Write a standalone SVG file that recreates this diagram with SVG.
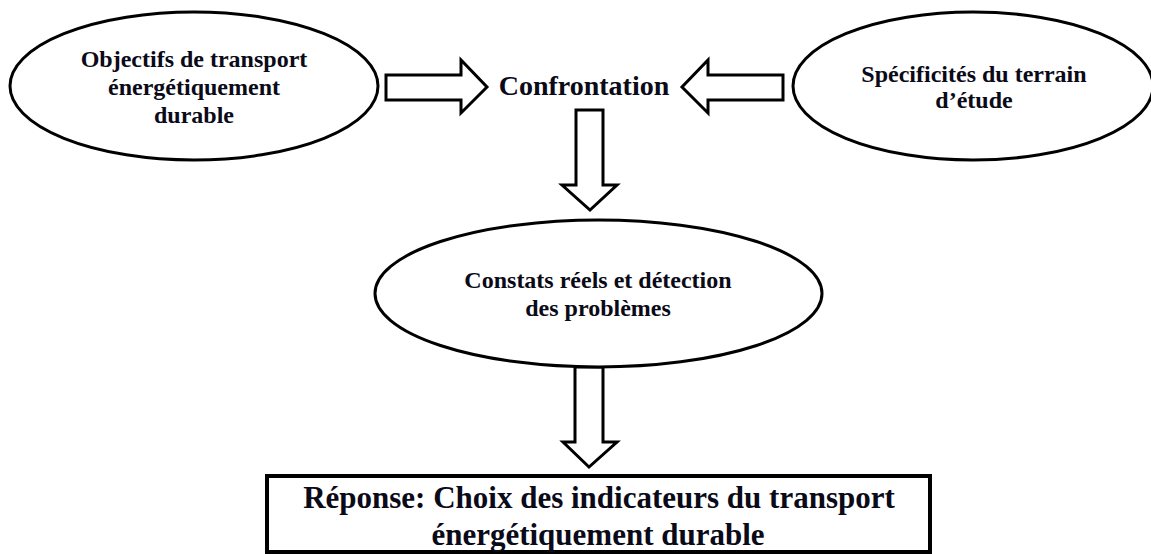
<svg xmlns="http://www.w3.org/2000/svg" width="1151" height="554" viewBox="0 0 1151 554">
  <style>
    .shape { fill: #ffffff; stroke: #000000; stroke-width: 3; }
    .arrow { fill: #ffffff; stroke: #000000; stroke-width: 3; stroke-linejoin: miter; }
    .box { fill: #ffffff; stroke: #000000; stroke-width: 4; }
    .t { font-family: "Liberation Serif", "Times New Roman", serif; font-weight: bold; fill: #0a0a18; text-anchor: middle; }
    .t24 { font-size: 24px; }
    .t28 { font-size: 28px; }
    .t31 { font-size: 31px; }
  </style>
  <rect x="0" y="0" width="1151" height="554" fill="#ffffff"/>

  <g id="connectors">
    <polygon class="arrow" points="386,75 461,75 461,60 487,87 461,113 461,100 386,100"/>
    <polygon class="arrow" points="783,75 708,75 708,60 682,87 708,113 708,100 783,100"/>
    <polygon class="arrow" points="576,110 603,110 603,185 617,185 590,210 562,185 576,185"/>
    <polygon class="arrow" points="575,367 603,367 603,442 617,442 589,467 563,442 575,442"/>
  </g>

  <g id="node-objectifs">
    <ellipse class="shape" cx="194" cy="86" rx="184" ry="74"/>
    <text class="t t24" x="194" y="67">Objectifs de transport</text>
    <text class="t t24" x="194" y="95">énergétiquement</text>
    <text class="t t24" x="194" y="123">durable</text>
  </g>

  <g id="node-confrontation">
    <text class="t t28" x="584" y="95">Confrontation</text>
  </g>

  <g id="node-specificites">
    <ellipse class="shape" cx="973" cy="86" rx="180" ry="74"/>
    <text class="t t24" x="974" y="82">Spécificités du terrain</text>
    <text class="t t24" x="974" y="108">d’étude</text>
  </g>

  <g id="node-constats">
    <ellipse class="shape" cx="598.5" cy="293.5" rx="223.5" ry="73.5"/>
    <text class="t t24" x="598" y="288">Constats réels et détection</text>
    <text class="t t24" x="598" y="316">des problèmes</text>
  </g>

  <g id="node-reponse">
    <rect class="box" x="267" y="476" width="663" height="76"/>
    <text class="t t31" x="599" y="508">Réponse: Choix des indicateurs du transport</text>
    <text class="t t31" x="598" y="545">énergétiquement durable</text>
  </g>
</svg>
